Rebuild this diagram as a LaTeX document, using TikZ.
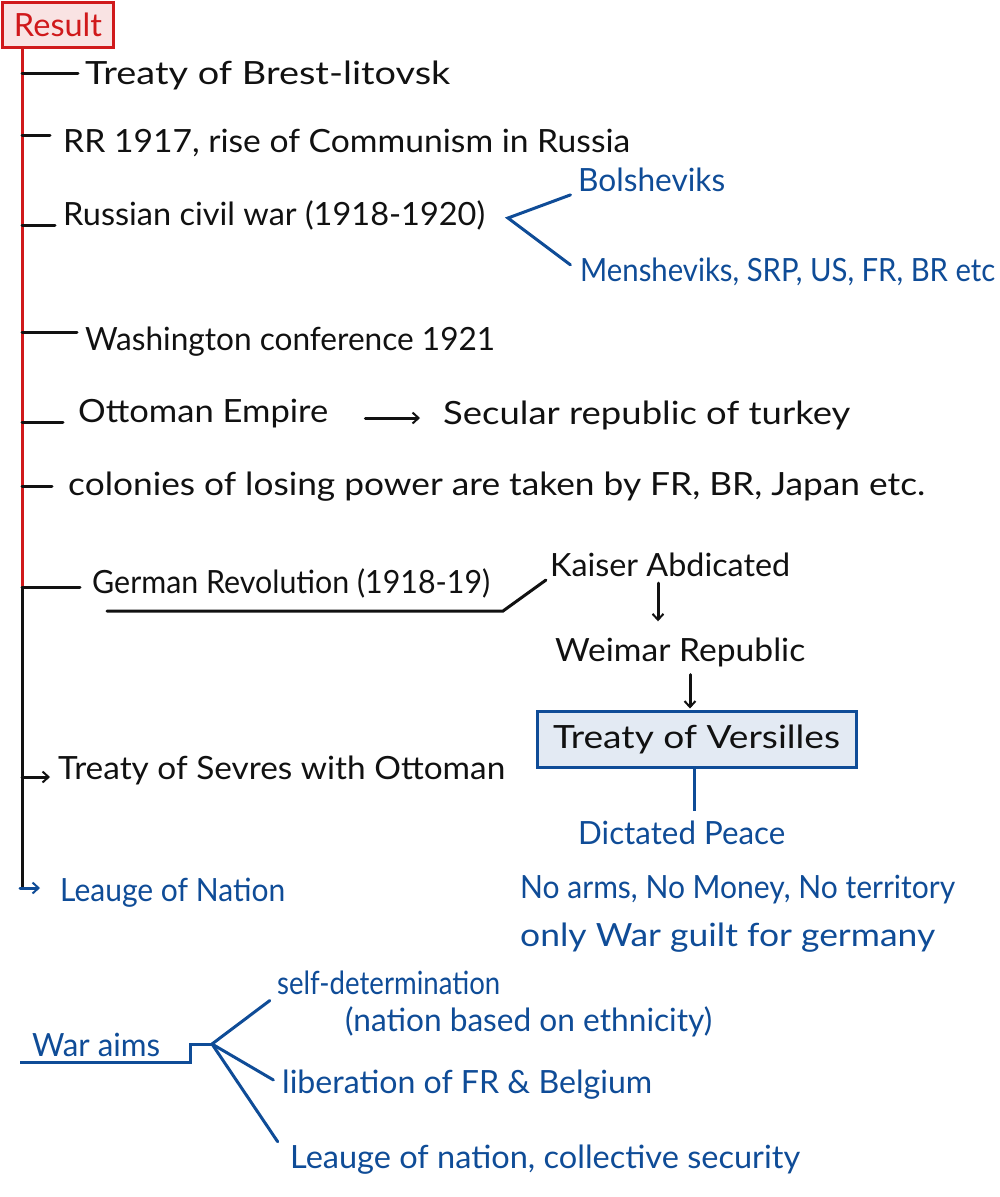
\documentclass[tikz,border=0pt]{standalone}
\usepackage{graphicx}
\usepackage{fontspec}
\setmainfont{Lato}
\usetikzlibrary{arrows.meta}
\definecolor{ink}{HTML}{111111}
\definecolor{pen}{HTML}{0F4C97}
\definecolor{redpen}{HTML}{D0191B}
\definecolor{pinkfill}{HTML}{F9E3E3}
\definecolor{boxfill}{HTML}{E3EAF3}
% stretch a line of text sideways to a given width, keeping its height
\newsavebox\linebox
\newcommand\fitw[2]{\sbox\linebox{#2}%
  \pgfmathsetmacro\xfactor{#1/(\wd\linebox)}%
  \scalebox{\xfactor}[1]{\usebox\linebox}}
\begin{document}
\begin{tikzpicture}[x=1pt,y=-1pt,
  txt/.style={anchor=west, inner sep=0pt, text=ink, font=\fontsize{32}{34}\selectfont},
  bluetxt/.style={txt, text=pen},
  stem/.style={line width=3pt},
  branch/.style={line width=3pt, draw=ink, line cap=round},
  bline/.style={line width=3pt, draw=pen, line cap=round},
  arr/.style={-{Straight Barb[length=6pt,width=11pt,line width=2pt]}},
]
\useasboundingbox (0,0) rectangle (1000,1197);

% heading box
\node[draw=redpen, fill=pinkfill, line width=3pt, minimum width=111pt, minimum height=45pt,
      text=redpen, font=\fontsize{32}{34}\selectfont, inner sep=0pt] (res) at (58,25) {\fitw{88}{Result}};

% trunk points
\coordinate (top) at (22,48);
\coordinate (b1) at (22,73);
\coordinate (b2) at (22,135);
\coordinate (b3) at (22,225);
\coordinate (b4) at (22,332);
\coordinate (b5) at (22,422);
\coordinate (b6) at (22,486);
\coordinate (b7) at (22,587);
\coordinate (b8) at (22,777);
\coordinate (b9) at (22,888);

\draw[stem, draw=redpen] (top) -- (b7);
\draw[stem, draw=ink] (b7) -- (b9);

% items
\node[txt] (n1) at (85,75) {\fitw{365}{Treaty of Brest-litovsk}};
\node[txt] (n2) at (63,143) {\fitw{567}{RR 1917, rise of Communism in Russia}};
\node[txt] (n3) at (63,215) {\fitw{422}{Russian civil war (1918-1920)}};
\node[txt] (n4) at (85,342) {\fitw{410}{Washington conference 1921}};
\node[txt] (n5) at (78,414) {\fitw{250}{Ottoman Empire}};
\node[txt] (turk) at (443,415) {\fitw{407}{Secular republic of turkey}};
\node[txt] (n6) at (68,487) {\fitw{857}{colonies of losing power are taken by FR, BR, Japan etc.}};
\node[txt] (n7) at (92,583) {\fitw{398}{German Revolution (1918-19)}};
\node[txt] (n8) at (58,770) {\fitw{447}{Treaty of Sevres with Ottoman}};
\node[bluetxt] (lg) at (60,893) {\fitw{225}{Leauge of Nation}};

\draw[branch, shorten >=7pt] (b1) -- (b1 -| n1.west);
\draw[branch, shorten >=13pt] (b2) -- (b2 -| n2.west);
\draw[branch, shorten >=8pt] (b3) -- (b3 -| n3.west);
\draw[branch, shorten >=8pt] (b4) -- (b4 -| n4.west);
\draw[branch, shorten >=15pt] (b5) -- (b5 -| n5.west);
\draw[branch, shorten >=16pt] (b6) -- (b6 -| n6.west);
\draw[branch, shorten >=12pt] (b7) -- (b7 -| n7.west);
\draw[branch, arr, shorten >=8pt] (b8) -- (b8 -| n8.west);
\draw[bline, arr, shorten >=20pt] ([xshift=-2pt]b9) -- (b9 -| lg.west);

\draw[branch, arr, shorten <=37pt, shorten >=23pt] (n5.east |- 0,418) -- (turk.west |- 0,418);

% civil war sides
\node[bluetxt] (bol) at (578,180) {\fitw{147}{Bolsheviks}};
\node[bluetxt] (men) at (580,272) {\fitw{415}{Mensheviks, SRP, US, FR, BR etc}};
\coordinate (fork) at (508,218);
\draw[bline, shorten <=8pt, shorten >=12pt] (bol.south west) -- (fork) -- (men.west);

% German revolution chain
\node[txt] (kai) at (550,565) {\fitw{240}{Kaiser Abdicated}};
\node[txt] (wei) at (555,652) {\fitw{250}{Weimar Republic}};
\node[draw=pen, fill=boxfill, line width=3pt, minimum width=319pt, minimum height=56pt,
      inner sep=0pt, text=ink, font=\fontsize{32}{34}\selectfont] (ver) at (696.5,739) {\fitw{287}{Treaty of Versilles}};
\coordinate (ul) at (107,611);
\coordinate (ulend) at (503,611);
\draw[branch, shorten >=5pt] (ul) -- (ulend) -- (kai.south west);
\draw[branch, arr, shorten <=6pt, shorten >=16pt] (kai.south -| 658,0) -- (wei.north -| 658,0);
\draw[branch, arr, shorten <=8pt, shorten >=1pt] (wei.south -| 690,0) -- (ver.north -| 690,0);

\node[bluetxt] (dic) at (578,833) {\fitw{207}{Dictated Peace}};
\node[bluetxt] (noa) at (520,890) {\fitw{435}{No arms, No Money, No territory}};
\node[bluetxt] (gui) at (520,938) {\fitw{415}{only War guilt for germany}};
\draw[bline, line cap=butt, shorten >=10pt] (ver.south -| 694,0) -- (dic.north -| 694,0);

% war aims
\node[bluetxt] (war) at (32,1045) {\fitw{128}{War aims}};
\coordinate (wa0) at (20,1062);
\coordinate (wa1) at (190,1062);
\coordinate (wa2) at (190,1044);
\coordinate (hub) at (212,1044);
\draw[bline, line cap=butt] (wa0) -- (wa1) -- (wa2) -- (hub);

\node[bluetxt] (sd) at (277,983) {\fitw{223}{self-determination}};
\node[bluetxt] (eth) at (345,1022) {\fitw{367}{(nation based on ethnicity)}};
\node[bluetxt] (lib) at (282,1085) {\fitw{370}{liberation of FR \& Belgium}};
\node[bluetxt] (lon) at (290,1160) {\fitw{510}{Leauge of nation, collective security}};
\draw[bline, shorten >=9pt] (hub) -- (sd.south west);
\draw[bline, shorten >=10pt] (hub) -- (lib.west);
\draw[bline, shorten >=22pt] (hub) -- (lon.west);
\end{tikzpicture}
\end{document}
